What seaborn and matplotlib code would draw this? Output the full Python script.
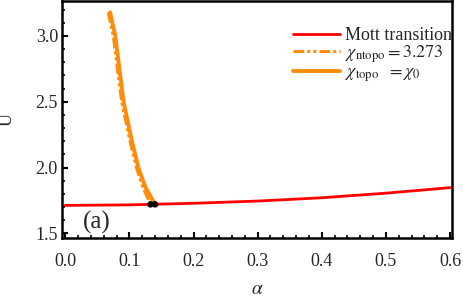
import numpy as np
import pandas as pd
import matplotlib
matplotlib.use("Agg")
import matplotlib.pyplot as plt
import seaborn as sns
from matplotlib.ticker import MultipleLocator, FormatStrFormatter

# Data
alpha_mott = [0.0, 0.1, 0.2, 0.3, 0.4, 0.5, 0.6]
U_mott = [1.712, 1.716, 1.728, 1.745, 1.770, 1.805, 1.847]

alpha_topo = [0.070, 0.078, 0.091, 0.104, 0.114, 0.125, 0.140]
U_topo = [3.18, 3.00, 2.50, 2.20, 2.00, 1.85, 1.72]

alpha_ntopo = [0.067, 0.075, 0.088, 0.101, 0.111, 0.121, 0.133]
U_ntopo = [3.18, 3.00, 2.50, 2.20, 2.00, 1.85, 1.72]

alpha_pts = [0.133, 0.140]
U_pts = [1.72, 1.72]

sns.set_style("white")
plt.rcParams['font.family'] = ['Liberation Serif', 'DejaVu Serif']
plt.rcParams['mathtext.fontset'] = 'stix'

fig = plt.figure(figsize=(4.63, 3.0), dpi=100)
ax = fig.add_axes([0.134, 0.2077, 0.9756 - 0.134, 0.9967 - 0.2077])

red = "#ff0000"
orange = "#ff8c0a"

sns.lineplot(x=alpha_mott, y=U_mott, ax=ax, color=red, lw=2.0,
             label="Mott transition", sort=False)
sns.lineplot(x=alpha_ntopo, y=U_ntopo, ax=ax, color=orange, lw=2.2,
             linestyle=(0, (3.5, 1, 1, 1, 1, 1)),
             label=r"$\chi_{\rm ntopo} = 3.273$", sort=False)
sns.lineplot(x=alpha_topo, y=U_topo, ax=ax, color=orange, lw=2.8,
             label=r"$\chi_{\rm topo}\ \ = \chi_0$", sort=False)
sns.scatterplot(x=alpha_pts, y=U_pts, ax=ax, color="black", s=22,
                edgecolor="none", zorder=5)

ax.set_xlim(-0.005, 0.6026)
ax.set_ylim(1.4665, 3.266)
ax.xaxis.set_major_locator(MultipleLocator(0.1))
ax.xaxis.set_minor_locator(MultipleLocator(0.02))
ax.yaxis.set_major_locator(MultipleLocator(0.5))
ax.yaxis.set_minor_locator(MultipleLocator(0.1))
ax.xaxis.set_major_formatter(FormatStrFormatter('%.1f'))
ax.yaxis.set_major_formatter(FormatStrFormatter('%.1f'))

ax.tick_params(which='both', direction='in', top=False, right=False,
               bottom=True, left=True, labelsize=13, color='black')
ax.tick_params(which='major', length=4, width=1.5)
ax.tick_params(which='minor', length=2.5, width=1.2)
ax.tick_params(axis='x', which='major', pad=11)
ax.tick_params(axis='y', which='major', pad=3)

for s in ax.spines.values():
    s.set_visible(True)
    s.set_color('black')
    s.set_linewidth(1.8)

ax.set_xlabel(r"$\alpha$", fontsize=14, labelpad=8)
ax.set_ylabel("U", fontsize=13, labelpad=14)

ax.text(0.028, 1.586, "(a)", fontsize=18, va='center', ha='left')

leg = ax.legend(loc='upper left', bbox_to_anchor=(0.593, 0.89),
                frameon=False, fontsize=13, handlelength=2.6,
                handletextpad=0.25, borderpad=0, labelspacing=-0.05,
                borderaxespad=0)

fig.savefig("out.png", dpi=100)
